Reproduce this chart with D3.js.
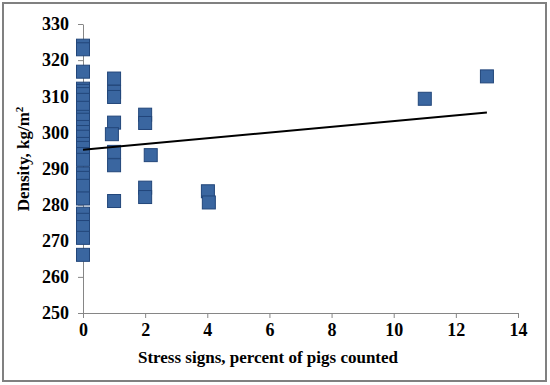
<!DOCTYPE html>
<html>
<head>
<meta charset="utf-8">
<script src="https://cdn.jsdelivr.net/npm/d3@7"></script>
<style>
body { margin: 0; background: #fff; }
text { font-family: "Liberation Serif", "Times New Roman", serif; font-weight: bold; fill: #000; }
</style>
</head>
<body>
<script>
// Data: stress signs (%) vs density (kg/m2)
var stress = [
	0, 0, 0, 0, 0, 0, 0, 0, 0, 0, 0, 0, 0,
	0, 0, 0, 0, 0, 0, 0, 0, 0, 0, 0, 0, 0,
	1, 1, 1, 1, 0.93, 1, 1, 1,
	2, 2, 2, 2, 2.18,
	4.02, 4.05,
	11, 13];
var density = [
	324, 323, 316.8, 312.1, 311.5, 310.6, 309, 306.8, 304.3, 303.5, 301.5, 300.1, 298.8,
	296.8, 295.7, 294, 292.4, 288.6, 287.4, 285.2, 281.7, 277.5, 275.8, 273.8, 270.8, 266.1,
	314.9, 311.2, 309.8, 302.7, 299.5, 294.6, 290.9, 281,
	304.9, 302.6, 284.7, 282.1, 293.7,
	283.7, 280.6,
	309.3, 315.5];
var trendX = [0, 13];
var trendY = [295.2, 305.5];
var xTicks = [0, 2, 4, 6, 8, 10, 12, 14];
var yTicks = [250, 260, 270, 280, 290, 300, 310, 320, 330];

var points = stress.map(function(s, i) {
	return { x: s, y: density[i] };
});

var width = 550, height = 385;
var margin = { top: 24, right: 32, bottom: 72, left: 83 };

var svg = d3.select("body").append("svg")
	.attr("width", width).attr("height", height);

// outer frame
svg.append("rect").attr("x", 3).attr("y", 3)
	.attr("width", 543).attr("height", 378)
	.attr("fill", "none").attr("stroke", "#808080").attr("stroke-width", 2);

var x = d3.scaleLinear().domain([0, 14]).range([margin.left, width - margin.right]);
var y = d3.scaleLinear().domain([250, 330]).range([height - margin.bottom, margin.top]);

var xAxis = d3.axisBottom(x).tickValues(xTicks).tickSize(5).tickPadding(5).tickSizeOuter(0);
var yAxis = d3.axisLeft(y).tickValues(yTicks).tickSize(5).tickPadding(9).tickSizeOuter(0);

var gx = svg.append("g").attr("transform", "translate(0," + y(250) + ")").call(xAxis);
var gy = svg.append("g").attr("transform", "translate(" + x(0) + ",0)").call(yAxis);

[gx, gy].forEach(function(g) {
	g.select(".domain").attr("stroke", "#868686");
	g.selectAll(".tick line").attr("stroke", "#868686");
	g.selectAll(".tick text").attr("font-size", "18px")
		.attr("font-family", "Liberation Serif, serif").attr("font-weight", "bold").attr("fill", "#000");
});

// markers
var msize = 13;
svg.append("g").selectAll("rect").data(points).enter().append("rect")
	.attr("x", function(d) { return x(d.x) - msize / 2; })
	.attr("y", function(d) { return y(d.y) - msize / 2; })
	.attr("width", msize).attr("height", msize)
	.attr("fill", "#3A66A0").attr("stroke", "#22467A").attr("stroke-width", 1);

// trend line
svg.append("line")
	.attr("x1", x(trendX[0])).attr("y1", y(trendY[0]))
	.attr("x2", x(trendX[1])).attr("y2", y(trendY[1]))
	.attr("stroke", "#000").attr("stroke-width", 2);

// axis titles
svg.append("text").attr("x", 268).attr("y", 363)
	.attr("text-anchor", "middle").attr("font-size", "17px")
	.text("Stress signs, percent of pigs counted");

var yl = svg.append("text")
	.attr("transform", "translate(29,159) rotate(-90)")
	.attr("text-anchor", "middle").attr("font-size", "17px");
yl.append("tspan").text("Density, kg/m");
yl.append("tspan").attr("baseline-shift", "super").attr("font-size", "11px").text("2");
</script>
</body>
</html>
